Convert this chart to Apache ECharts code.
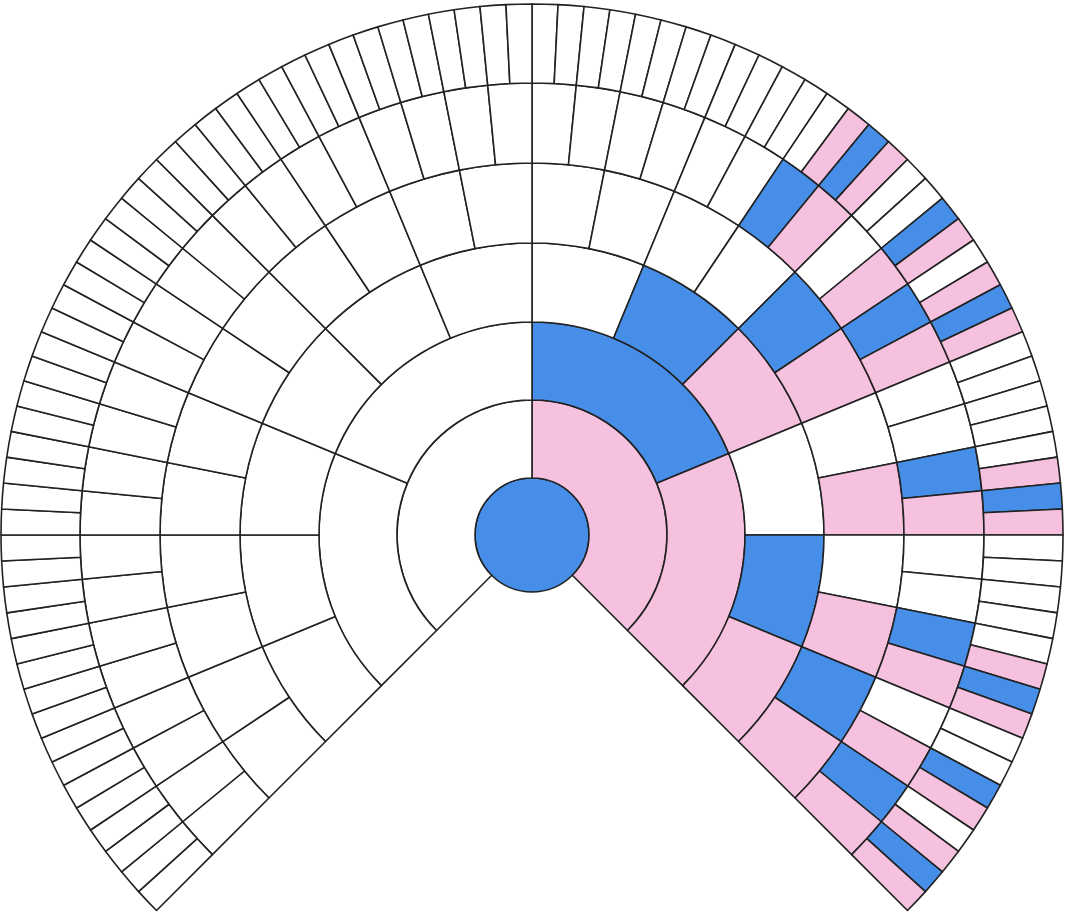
<!DOCTYPE html>
<html><head><meta charset="utf-8">
<script src="https://cdn.jsdelivr.net/npm/echarts@6/dist/echarts.min.js"></script>
<style>html,body{margin:0;padding:0;background:#fff}#c{width:1067px;height:914px}</style>
</head><body><div id="c"></div>
<script>
// Right-side cell colours per generation, clockwise from top (W white, B blue, P pink)
const gen1Right = ['P'];
const gen2Right = ['B','P'];
const gen3Right = ['W','B','P','W','B','P'];
const gen4Right = ['W','W','W','W','B','P','W','P','W','P','B','P'];
const gen5Right = ['W','W','W','W','W','W','B','P','W','P','B','P','W','W','B','P','W','W','B','P','W','P','B','P'];
const gen6Right = ['W','W','W','W','W','W','W','W','W','W','W','W','W','P','B','P','W','W','B','P','W','P','B','P',
                   'W','W','W','W','W','P','B','P','W','W','W','W','W','P','B','P','W','W','B','P','W','P','B','P'];
const generations = [gen1Right, gen2Right, gen3Right, gen4Right, gen5Right, gen6Right];
const ringRadii = [[57,135],[135,213],[213,292],[292,372],[372,452],[452,531]];
const rootColor = 'B';

const palette = {W:'#ffffff', B:'#468ee8', P:'#f5c1df'};
const border = {borderColor:'#222222', borderWidth:1.6};

const series = [{
  type:'pie', silent:true, center:[532,535], radius:[0,57], label:{show:false}, labelLine:{show:false},
  data:[{value:1, itemStyle:Object.assign({color:palette[rootColor]}, border)}]
}];
generations.forEach((g, k) => {
  const n = g.length;
  const data = [];
  g.forEach(c => data.push({value:1, itemStyle:Object.assign({color:palette[c]}, border)}));
  data.push({value:n*2/3, itemStyle:{color:'rgba(0,0,0,0)', borderWidth:0}});
  for (let i = 0; i < n; i++) data.push({value:1, itemStyle:Object.assign({color:palette.W}, border)});
  series.push({
    type:'pie', silent:true, center:[532,535], radius:ringRadii[k], startAngle:90, clockwise:true,
    minAngle:0, avoidLabelOverlap:false, label:{show:false}, labelLine:{show:false},
    animation:false, data
  });
});
const chart = echarts.init(document.getElementById('c'));
chart.setOption({animation:false, series});
</script></body></html>
